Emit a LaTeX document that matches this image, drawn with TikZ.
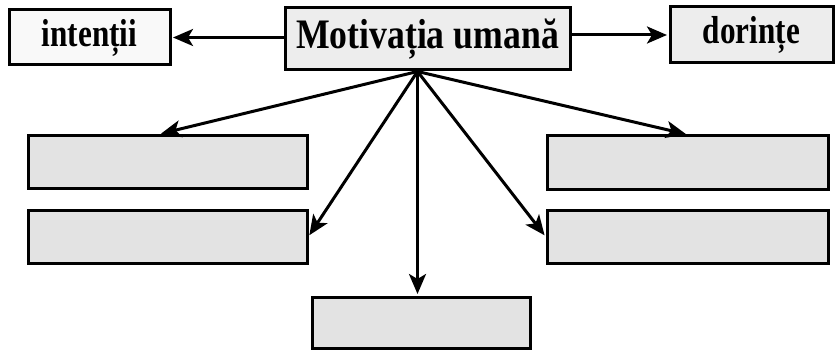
\documentclass[tikz,border=0pt]{standalone}
\usepackage{fontspec}
\setmainfont{Liberation Serif}
\newfontfamily\boxfont[FakeStretch=0.85]{Liberation Serif}
\newfontfamily\narrowfont[FakeStretch=0.8]{Liberation Serif}
\usetikzlibrary{arrows.meta}
\tikzstyle{arrow} = [line width=3pt,shorten >=1.5pt,-{Stealth[length=20pt,width=17pt,inset=5pt]}]
\tikzstyle{topbox} = [draw,line width=3pt,fill=gray!14,inner sep=0pt]
\tikzstyle{blankbox} = [draw,line width=3pt,fill=gray!22,inner sep=0pt]
\def \bigfont{\boxfont\bfseries\fontsize{42}{46}\selectfont}
\def \smallfont{\narrowfont\bfseries\fontsize{39}{43}\selectfont}

\begin{document}
\begin{tikzpicture}[x=1pt,y=-1pt]
	\useasboundingbox (0,0) rectangle (835,350);

	% define constants
	\def \bw {279}
	\def \bh {53}

	% Draw the top row
	\node [topbox,minimum width=285,minimum height=62,font=\bigfont] (motiv) at (427.5,39) {Motivația umană};
	\node [topbox,fill=gray!5,minimum width=161,minimum height=55,font=\smallfont] (intentii) at (89.5,37.5) {intenții};
	\node [topbox,minimum width=163,minimum height=56,font=\smallfont] (dorinte) at (751.5,35) {dorințe};

	% the empty boxes below
	\node [blankbox,minimum width=\bw,minimum height=\bh] (lefta) at (167.5,162) {};
	\node [blankbox,minimum width=\bw,minimum height=\bh] (leftb) at (167.5,236.5) {};
	\node [blankbox,minimum width=\bw+2,minimum height=\bh] (righta) at (687.5,162.5) {};
	\node [blankbox,minimum width=\bw+2,minimum height=\bh] (rightb) at (687.5,236.5) {};
	\node [blankbox,minimum width=218,minimum height=51] (bottom) at (421,322.5) {};

	% Draw the arrows
	\draw[arrow] (motiv.west |- intentii) -- (intentii.east);
	\draw[arrow] (motiv.east |- dorinte) -- (dorinte.west);

	\coordinate (hub) at ([xshift=-10pt]motiv.south);
	\draw[arrow] (hub) -- ([xshift=-8pt]lefta.north);
	\draw[arrow] (hub) -- (leftb.east);
	\draw[arrow] (hub) -- (hub |- bottom.north);
	\draw[arrow] (hub) -- (righta.north);
	\draw[arrow] (hub) -- (rightb.west);
\end{tikzpicture}
\end{document}
